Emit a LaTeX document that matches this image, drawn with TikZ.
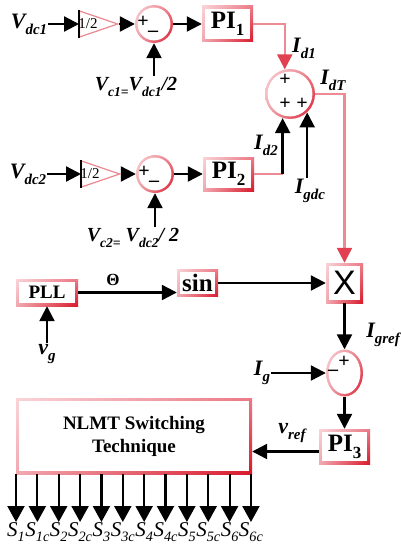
\documentclass[tikz,border=0pt]{standalone}
\usepackage{fontspec}
\setmainfont{Liberation Serif}
\setsansfont{Liberation Sans}
\usetikzlibrary{arrows.meta, calc, shapes.geometric, shadings}
\definecolor{edgeLight}{HTML}{F9D4D8}
\definecolor{edgeMid}{HTML}{EC7A86}
\definecolor{edgeSoft}{HTML}{F2A8B0}
\definecolor{edgeDark}{HTML}{D8182A}
\definecolor{linePink}{HTML}{EE8A94}
\definecolor{tipRed}{HTML}{E04050}
\definecolor{triPink}{HTML}{EC8690}
\newcommand{\lo}[1]{\raisebox{-0.28em}{\scalebox{0.68}{#1}}}

\begin{document}
\begin{tikzpicture}[
  x=1pt, y=-1pt,
  blk/.style={
    rectangle, inner sep=0pt, fill=white,
    path picture={
      \shade[upper left=edgeLight, upper right=edgeMid, lower left=edgeSoft, lower right=edgeDark]
        (path picture bounding box.south west) rectangle (path picture bounding box.north east);
      \fill[white] ([shift={(2.6pt,2.6pt)}]path picture bounding box.south west)
        rectangle ([shift={(-2.6pt,-2.6pt)}]path picture bounding box.north east);
    },
  },
  circ/.style={
    circle, minimum size=#1, inner sep=0pt,
    path picture={
      \shade[upper left=edgeLight, upper right=edgeMid, lower left=edgeSoft, lower right=edgeDark]
        (path picture bounding box.south west) rectangle (path picture bounding box.north east);
      \fill[white] (path picture bounding box.center) circle [radius=#1/2-2.6pt];
    },
  },
  oval/.style={
    ellipse, minimum width=37pt, minimum height=47pt, inner sep=0pt,
    path picture={
      \shade[upper left=edgeLight, upper right=edgeMid, lower left=edgeSoft, lower right=edgeDark]
        (path picture bounding box.south west) rectangle (path picture bounding box.north east);
      \fill[white] (path picture bounding box.center) ellipse [x radius=15.9pt, y radius=20.9pt];
    },
  },
  gain/.style={
    isosceles triangle, isosceles triangle stretches, shape border rotate=0,
    draw=triPink, line width=1.2pt, minimum width=26pt, minimum height=38pt,
    inner sep=0pt, anchor=lower side, font=\fontsize{15}{15}\selectfont,
  },
  var/.style={font=\fontsize{22}{22}\selectfont\bfseries\itshape, inner sep=1pt},
  lbl/.style={font=\fontsize{20}{20}\selectfont\bfseries\itshape, inner sep=1pt},
  slab/.style={font=\fontsize{21}{21}\selectfont\itshape, inner sep=0pt},
  sgn/.style={font=\fontsize{20}{20}\selectfont\bfseries, inner sep=0pt},
  arr/.style={-{Triangle[length=15pt, width=15pt]}, line width=2.3pt},
  outarr/.style={-{Triangle[length=16pt, width=17pt]}, line width=2.2pt},
  pline/.style={draw=linePink, line width=2.3pt},
  rarr/.style={pline, -{Triangle[length=15pt, width=15pt, color=tipRed]}},
]
\useasboundingbox (0,0) rectangle (401,551);

% first dc link
\node[var] (vdc1) at (29,24) {V\lo{dc1}};
\node[gain] (gain1) at (79,24) {\hspace*{-3pt}1/2};
\draw[line width=1.8pt] (gain1.left corner) -- (gain1.right corner);
\node[circ=38pt] (sum1) at (154,24) {};
\node[sgn] (plus1) at (143,22) {+};
\node[sgn] (minus1) at (153,34) {–};
\node[blk, minimum width=51pt, minimum height=36pt, font=\fontsize{25}{25}\selectfont\bfseries] (pi1) at (227.5,24) {PI\lo{1}};
\node[lbl] (vc1) at (136,87) {V\lo{c1=}V\lo{dc1}/2};

% second dc link
\node[var] (vdc2) at (28,174) {V\lo{dc2}};
\node[gain] (gain2) at (81,174) {\hspace*{-3pt}1/2};
\draw[line width=1.8pt] (gain2.left corner) -- (gain2.right corner);
\node[circ=38pt] (sum3) at (155,174) {};
\node[sgn] (plus3) at (144,172) {+};
\node[sgn] (minus3) at (154,184) {–};
\node[blk, minimum width=51pt, minimum height=34pt, font=\fontsize{25}{25}\selectfont\bfseries] (pi2) at (228.5,174) {PI\lo{2}};
\node[lbl] (vc2) at (133,238) {V\lo{c2=} V\lo{dc2}/ 2};

% total dc current
\node[circ=50pt] (sum2) at (290,94) {};
\node[sgn] (plus2a) at (285,80) {+};
\node[sgn] (plus2b) at (285,104) {+};
\node[sgn] (plus2c) at (302,104) {+};
\node[var] (id1) at (304,48) {I\lo{d1}};
\node[var] (idt) at (333,80) {I\lo{dT}};
\node[var] (id2) at (266,145) {I\lo{d2}};
\node[var] (igdc) at (310,191) {I\lo{gdc}};

% grid reference
\node[blk, minimum width=62pt, minimum height=27pt, font=\fontsize{19}{19}\selectfont\bfseries] (pll) at (47,292.5) {PLL};
\node[blk, minimum width=41pt, minimum height=27pt, font=\fontsize{25}{25}\selectfont\bfseries] (sine) at (197.5,283) {sin};
\node[blk, minimum width=37pt, minimum height=40pt, font=\fontsize{34}{34}\selectfont\sffamily] (mult) at (344.5,283) {X};
\node[lbl, font=\fontsize{17}{17}\selectfont\bfseries] (theta) at (113,280) {Θ};
\node[var] (vg) at (47,354) {v\lo{g}};

\node[oval] (sum4) at (344.5,373) {};
\node[sgn] (plus4) at (344,362) {+};
\node[sgn] (minus4) at (333,373) {–};
\node[var] (igref) at (383,335) {I\lo{gref}};
\node[var] (ig) at (262,373) {I\lo{g}};
\node[blk, minimum width=51pt, minimum height=35pt, font=\fontsize{25}{25}\selectfont\bfseries] (pi3) at (344.5,446.5) {PI\lo{3}};
\node[var] (vref) at (292,433) {v\lo{ref}};

\node[blk, minimum width=236pt, minimum height=76pt, align=center, font=\fontsize{19}{23}\selectfont\bfseries] (nlmt) at (134,436) {NLMT Switching\\Technique};

\draw[arr] (vdc1) -- (gain1.lower side);
\draw[arr] (gain1.apex) -- (sum1);
\draw[arr] (sum1) -- (pi1);
\draw[arr] (vc1.north -| sum1) -- (sum1);
\draw[rarr] (pi1) -| (sum2.102);

\draw[arr] (vdc2) -- (gain2.lower side);
\draw[arr] (gain2.apex) -- (sum3);
\draw[arr] (sum3) -- (pi2);
\draw[arr] (vc2.north -| sum3) -- (sum3);
\draw[pline] (pi2) -- (pi2 -| sum2.253);
\draw[arr] (pi2 -| sum2.253) -- (sum2.253);
\draw[arr] (igdc.north -| sum2.313) -- (sum2.313);
\draw[rarr] (sum2) -| (mult);

\draw[arr] (pll) -- (pll -| sine.west);
\draw[arr] (vg) -- (pll);
\draw[arr] (sine) -- (mult);
\draw[arr] (mult) -- (sum4);
\draw[arr] (ig) -- (sum4);
\draw[arr] (sum4) -- (pi3);
\draw[arr] ([yshift=-5pt]pi3.west) -- ([yshift=-5pt]pi3.west -| nlmt.east);

\foreach \s [count=\i from 0] in {S\lo{1}, S\lo{1c}, S\lo{2}, S\lo{2c}, S\lo{3}, S\lo{3c},
                                  S\lo{4}, S\lo{4c}, S\lo{5}, S\lo{5c}, S\lo{6}, S\lo{6c}} {
  \node[slab, anchor=north] (s\i) at ({16+21.36*\i},522) {\s};
  \draw[outarr] (s\i |- nlmt.south) -- (s\i.north);
}

\end{tikzpicture}
\end{document}
